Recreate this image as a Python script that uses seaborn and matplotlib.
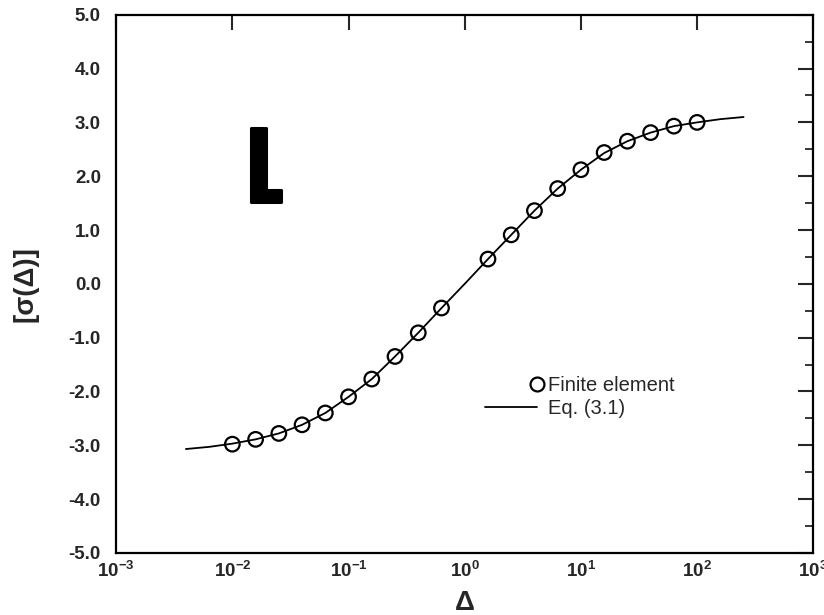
import matplotlib
matplotlib.use("Agg")
import matplotlib.pyplot as plt
import matplotlib.patheffects as pe
import seaborn as sns
import pandas as pd
import numpy as np
from matplotlib.ticker import FixedLocator, FuncFormatter, MultipleLocator, NullLocator
from matplotlib.legend_handler import HandlerLine2D
from matplotlib.lines import Line2D

# ---- data ----
fe_logdelta = [-2.0, -1.8, -1.6, -1.4, -1.2, -1.0, -0.8, -0.6, -0.4, -0.2,
               0.2, 0.4, 0.6, 0.8, 1.0, 1.2, 1.4, 1.6, 1.8, 2.0]
fe_sigma = [-2.98, -2.89, -2.78, -2.62, -2.40, -2.10, -1.77, -1.35, -0.91, -0.45,
            0.46, 0.91, 1.36, 1.77, 2.12, 2.44, 2.65, 2.81, 2.93, 3.00]

eq_logdelta = [-2.4, -2.2, -2.0, -1.8, -1.6, -1.4, -1.2, -1.0, -0.8, -0.6, -0.4, -0.2,
               0.0, 0.2, 0.4, 0.6, 0.8, 1.0, 1.2, 1.4, 1.6, 1.8, 2.0, 2.2, 2.4]
eq_sigma = [-3.07, -3.03, -2.97, -2.89, -2.78, -2.62, -2.40, -2.10, -1.77, -1.35, -0.91, -0.45,
            0.0, 0.46, 0.91, 1.36, 1.77, 2.12, 2.43, 2.65, 2.81, 2.93, 3.00, 3.06, 3.10]

x_ticks = [1e-3, 1e-2, 1e-1, 1e0, 1e1, 1e2, 1e3]
x_ticklabels = ["$10^{-3}$", "$10^{-2}$", "$10^{-1}$", "$10^{0}$", "$10^{1}$", "$10^{2}$", "$10^{3}$"]
y_ticks = [-5.0, -4.0, -3.0, -2.0, -1.0, 0.0, 1.0, 2.0, 3.0, 4.0, 5.0]

fe_df = pd.DataFrame({"delta": [10 ** v for v in fe_logdelta], "sigma": fe_sigma})
eq_df = pd.DataFrame({"delta": [10 ** v for v in eq_logdelta], "sigma": eq_sigma})

# ---- style ----
sns.set_theme(style="white")
plt.rcParams["font.family"] = ["Liberation Sans", "DejaVu Sans"]
plt.rcParams["axes.unicode_minus"] = False
plt.rcParams["mathtext.fontset"] = "custom"
plt.rcParams["mathtext.rm"] = "Liberation Sans:bold"
plt.rcParams["mathtext.bf"] = "Liberation Sans:bold"
plt.rcParams["mathtext.it"] = "Liberation Sans:bold"
plt.rcParams["mathtext.default"] = "rm"

fig = plt.figure(figsize=(8.24, 6.15), dpi=100)
ax = fig.add_axes([0.141, 0.101, 0.846, 0.875])

sns.lineplot(data=eq_df, x="delta", y="sigma", ax=ax, color="black", linewidth=1.3,
             sort=False, legend=False)
sns.scatterplot(data=fe_df, x="delta", y="sigma", ax=ax, marker="o", s=110,
                facecolor="none", edgecolor="black", linewidth=1.6,
                zorder=3, legend=False)

ax.set_xscale("log")
ax.set_xlim(1e-3, 1e3)
ax.set_ylim(-5, 5)

ax.xaxis.set_major_locator(FixedLocator(x_ticks))
ax.set_xticklabels(x_ticklabels)
ax.xaxis.set_minor_locator(NullLocator())
ax.yaxis.set_major_locator(FixedLocator(y_ticks))
ax.yaxis.set_minor_locator(MultipleLocator(0.5))
ax.yaxis.set_major_formatter(FuncFormatter(lambda v, p: f"{v:.1f}"))

ax.tick_params(axis="both", which="major", direction="in", length=11, width=1.5,
               top=True, right=True, labelsize=13.5)
ax.tick_params(axis="y", which="major", pad=11)
ax.tick_params(axis="x", which="major", pad=6)
ax.tick_params(axis="both", which="minor", direction="in", length=6, width=1.3,
               top=True, right=True)
for lbl in ax.get_yticklabels():
    lbl.set_fontweight("bold")

for sp in ax.spines.values():
    sp.set_linewidth(1.6)
    sp.set_color("black")

ax.set_xlabel("Δ", fontsize=20, fontweight="bold", labelpad=6)
ax.set_ylabel("[σ(Δ)]", fontsize=20, fontweight="bold", labelpad=22)

ax.text(10 ** -1.72, 2.1, "L", fontsize=62, ha="center", va="center",
        family=["Anton", "Oswald", "Liberation Sans"], color="black",
        path_effects=[pe.withStroke(linewidth=2.2, foreground="black")])


class RightMarkerHandler(HandlerLine2D):
    def get_xdata(self, legend, xdescent, ydescent, width, height, fontsize):
        xr = -xdescent + width
        return np.array([xr, xr]), np.array([xr])


h_fe = Line2D([], [], linestyle="none", marker="o", markersize=10, markerfacecolor="none",
              markeredgecolor="black", markeredgewidth=1.6)
h_eq = Line2D([], [], color="black", linewidth=1.3)
ax.legend([h_fe, h_eq], ["Finite element", "Eq. (3.1)"], loc="upper left",
          bbox_to_anchor=(0.529, 0.328), frameon=False, fontsize=14.5, handlelength=2.6,
          handletextpad=0.55, labelspacing=0.2, numpoints=1, borderpad=0, borderaxespad=0,
          handler_map={h_fe: RightMarkerHandler(numpoints=1)})

fig.savefig("out.png", dpi=100)
